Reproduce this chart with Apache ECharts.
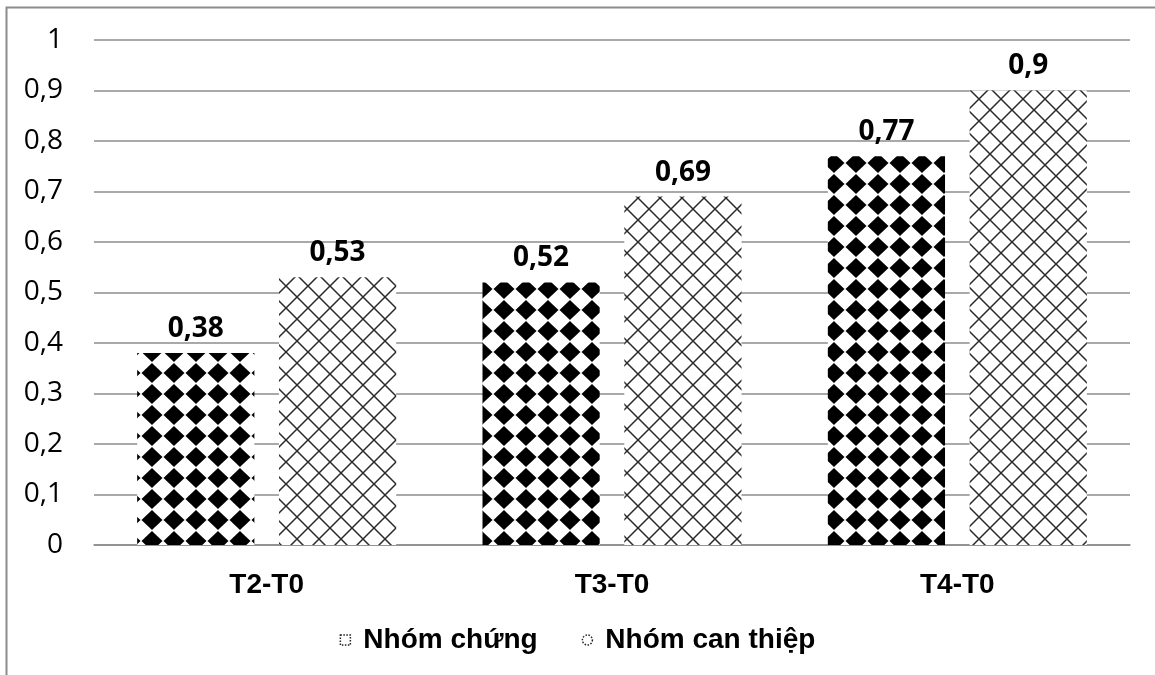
<!DOCTYPE html>
<html>
<head>
<meta charset="utf-8">
<script src="https://cdn.jsdelivr.net/npm/echarts@6/dist/echarts.min.js"></script>
<style>
  html, body { margin: 0; padding: 0; background: #fff; }
  #chart { width: 1155px; height: 675px; }
</style>
</head>
<body>
<div id="chart"></div>
<script>
    'use strict';

    const categories = ["T2-T0", "T3-T0", "T4-T0"];
    const seriesNames = ["Nhóm chứng", "Nhóm can thiệp"];
    const controlValues = [0.38, 0.52, 0.77];
    const interventionValues = [0.53, 0.69, 0.9];
    const yTicks = [0, 0.1, 0.2, 0.3, 0.4, 0.5, 0.6, 0.7, 0.8, 0.9, 1];

    const comma = (v) => String(v).replace(".", ",");

    // black diamonds on white, centre shifted so the phase matches the picture
    function diamondTile() {
        const W = 22, H = 21, cx = 20, cy = 16;
        let c = document.createElement("canvas");
        c.width = W; c.height = H;
        let g = c.getContext("2d");
        g.fillStyle = "#fff";
        g.fillRect(0, 0, W, H);
        g.fillStyle = "#000";
        for (let dx = -W; dx <= W; dx += W) {
            for (let dy = -H; dy <= H; dy += H) {
                let x = cx + dx, y = cy + dy;
                g.beginPath();
                g.moveTo(x, y - 10);
                g.lineTo(x + 10.5, y);
                g.lineTo(x, y + 10);
                g.lineTo(x - 10.5, y);
                g.closePath();
                g.fill();
            }
        }
        return c;
    }

    // diagonal cross hatch
    function hatchTile() {
        let c = document.createElement("canvas");
        c.width = 22; c.height = 22;
        let g = c.getContext("2d");
        g.fillStyle = "#fff";
        g.fillRect(0, 0, 22, 22);
        g.strokeStyle = "#2a2a2a";
        g.lineWidth = 1.5;
        g.beginPath();
        g.moveTo(0, 0); g.lineTo(22, 22);
        g.moveTo(22, 0); g.lineTo(0, 22);
        g.stroke();
        return c;
    }

    const fillA = { image: diamondTile(), repeat: "repeat" };
    const fillB = { image: hatchTile(), repeat: "repeat" };

    const labelStyle = {
        show: true,
        position: "top",
        distance: 10,
        fontFamily: "Open Sans",
        fontWeight: "bold",
        fontSize: 28,
        color: "#000",
        formatter: (p) => comma(p.value)
    };

    const legendIcon = {
        color: "#fff",
        borderColor: "#222",
        borderWidth: 1.5,
        borderType: "dotted"
    };

    let chart = echarts.init(document.getElementById("chart"));
    chart.setOption({
        animation: false,
        backgroundColor: "#fff",
        graphic: [{
            type: "rect",
            shape: { x: 6.5, y: 7.5, width: 1300, height: 800 },
            style: { fill: "none", stroke: "#8c8c8c", lineWidth: 2 },
            silent: true
        }],
        grid: { left: 94, right: 25, top: 40, bottom: 130 },
        legend: {
            bottom: 16,
            left: "center",
            itemWidth: 10,
            itemHeight: 10,
            itemGap: 44,
            textStyle: {
                fontFamily: "Liberation Sans",
                fontWeight: "bold",
                fontSize: 28,
                color: "#000",
                padding: [0, 0, 0, 8]
            },
            data: [
                { name: seriesNames[0], icon: "rect", itemStyle: legendIcon },
                { name: seriesNames[1], icon: "circle", itemStyle: legendIcon }
            ]
        },
        xAxis: {
            type: "category",
            data: categories,
            axisTick: { show: false },
            axisLine: { lineStyle: { color: "#8c8c8c", width: 1.5 } },
            axisLabel: {
                margin: 26,
                fontFamily: "Liberation Sans",
                fontWeight: "bold",
                fontSize: 28,
                color: "#000"
            }
        },
        yAxis: {
            type: "value",
            min: yTicks[0],
            max: yTicks[yTicks.length - 1],
            interval: 0.1,
            axisLine: { show: false },
            axisTick: { show: false },
            splitLine: { lineStyle: { color: "#8c8c8c", width: 1.5 } },
            axisLabel: {
                margin: 31,
                fontFamily: "Open Sans",
                fontSize: 28,
                color: "#000",
                formatter: (v) => comma(Math.round(v * 10) / 10)
            }
        },
        series: [{
            name: seriesNames[0],
            type: "bar",
            data: controlValues,
            barGap: "21%",
            barCategoryGap: "25%",
            itemStyle: { color: fillA },
            label: labelStyle
        }, {
            name: seriesNames[1],
            type: "bar",
            data: interventionValues,
            itemStyle: { color: fillB },
            label: labelStyle
        }]
    });
</script>
</body>
</html>
